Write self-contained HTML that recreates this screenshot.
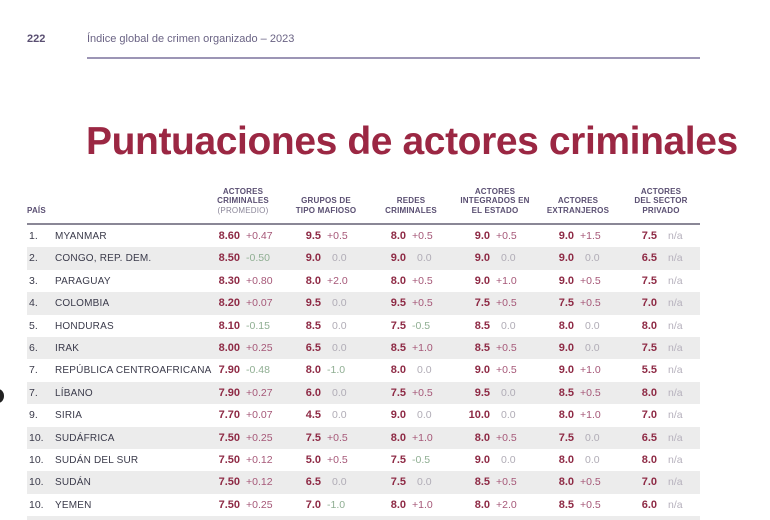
<!DOCTYPE html>
<html style="width:770px;height:520px;overflow:hidden"><head><meta charset="utf-8">
<style>
body{margin:0;width:770px;height:520px;overflow:hidden;background:#fff;font-family:"Liberation Sans",sans-serif;position:relative}
.abs{position:absolute;white-space:nowrap}
.hd{font-size:8px;font-weight:bold;color:#5a4f72;text-align:center;line-height:9.5px;letter-spacing:0.2px}
.row{position:absolute;left:27px;width:673px;height:22.4px}
.cell{position:absolute;font-size:11px;top:5px;white-space:nowrap;line-height:13px}
.sc{font-weight:bold;color:#8e2a45;text-align:right;width:40px}
.ch{font-size:10.5px}
</style></head><body>
<div class="abs" style="left:27px;top:33px;font-size:11px;font-weight:bold;color:#5a4f72">222</div>
<div class="abs" style="left:87px;top:33px;font-size:11px;color:#6a6384">Índice global de crimen organizado – 2023</div>
<div class="abs" style="left:87px;top:57px;width:613px;height:2px;background:#9c95b5"></div>
<div class="abs" style="left:86px;top:120px;font-size:39px;font-weight:bold;color:#9b2743;letter-spacing:-0.4px">Puntuaciones de actores criminales</div>
<div class="abs" style="left:-8px;top:389px;width:12px;height:14px;border-radius:50%;background:#222"></div>
<div class="abs hd" style="left:27px;top:206px;text-align:left">PAÍS</div>
<div id="hdrs"></div>
<div class="abs" style="left:27px;top:223px;width:673px;height:2px;background:#8a8796"></div>
<div id="rows"></div>
<script>
const ranks=["1.","2.","3.","4.","5.","6.","7.","7.","9.","10.","10.","10.","10.",""];
const countries=["MYANMAR","CONGO, REP. DEM.","PARAGUAY","COLOMBIA","HONDURAS","IRAK","REPÚBLICA CENTROAFRICANA","LÍBANO","SIRIA","SUDÁFRICA","SUDÁN DEL SUR","SUDÁN","YEMEN",""];
const avgScore=["8.60","8.50","8.30","8.20","8.10","8.00","7.90","7.90","7.70","7.50","7.50","7.50","7.50",""];
const avgChange=["+0.47","-0.50","+0.80","+0.07","-0.15","+0.25","-0.48","+0.27","+0.07","+0.25","+0.12","+0.12","+0.25",""];
const mafScore=["9.5","9.0","8.0","9.5","8.5","6.5","8.0","6.0","4.5","7.5","5.0","6.5","7.0",""];
const mafChange=["+0.5","0.0","+2.0","0.0","0.0","0.0","-1.0","0.0","0.0","+0.5","+0.5","0.0","-1.0",""];
const redScore=["8.0","9.0","8.0","9.5","7.5","8.5","8.0","7.5","9.0","8.0","7.5","7.5","8.0",""];
const redChange=["+0.5","0.0","+0.5","+0.5","-0.5","+1.0","0.0","+0.5","0.0","+1.0","-0.5","0.0","+1.0",""];
const intScore=["9.0","9.0","9.0","7.5","8.5","8.5","9.0","9.5","10.0","8.0","9.0","8.5","8.0",""];
const intChange=["+0.5","0.0","+1.0","+0.5","0.0","+0.5","+0.5","0.0","0.0","+0.5","0.0","+0.5","+2.0",""];
const extScore=["9.0","9.0","9.0","7.5","8.0","9.0","9.0","8.5","8.0","7.5","8.0","8.0","8.5",""];
const extChange=["+1.5","0.0","+0.5","+0.5","0.0","0.0","+1.0","+0.5","+1.0","0.0","0.0","+0.5","+0.5",""];
const priScore=["7.5","6.5","7.5","7.0","8.0","7.5","5.5","8.0","7.0","6.5","8.0","7.0","6.0",""];
const headers=[["ACTORES","CRIMINALES","(PROMEDIO)"],["GRUPOS DE","TIPO MAFIOSO"],["REDES","CRIMINALES"],["ACTORES","INTEGRADOS EN","EL ESTADO"],["ACTORES","EXTRANJEROS"],["ACTORES","DEL SECTOR","PRIVADO"]];
const headerNames=["col-header-actores-criminales","col-header-grupos-mafiosos","col-header-redes-criminales","col-header-actores-estado","col-header-actores-extranjeros","col-header-sector-privado"];
const colCenters=[243,326,411,495,578,661];
const scoreRight=[240,321,406,490,574,657];
const hd=document.getElementById('hdrs');
headers.forEach((h,i)=>{
  const d=document.createElement('div');
  
  
  d.className='abs hd';
  d.style.left=(colCenters[i]-45)+'px';d.style.width='90px';
  d.style.top=(215-h.length*9.5)+'px';
  d.innerHTML=h.map((t,k)=>(i==0&&k==2)?'<span style="font-weight:normal;color:#8a8598">'+t+'</span>':t).join('<br>');
  hd.appendChild(d);
});
function chColor(v){if(v==="n/a")return"#b5b0bc";const n=parseFloat(v);if(n>0)return"#a65878";if(n<0)return"#8fae92";return"#b0acb6";}
const rowsEl=document.getElementById('rows');
const cols=[[avgScore,avgChange],[mafScore,mafChange],[redScore,redChange],[intScore,intChange],[extScore,extChange],[priScore,null]];
const pitch=22.4,top0=225;
countries.forEach((c,r)=>{
  const row=document.createElement('div');
  
  
  row.className='row';
  row.style.top=(top0+r*pitch)+'px';
  if(r%2==1)row.style.background='#ececec';
  let h='<div class="cell" style="left:2px;color:#3a3a4a;font-size:10.5px">'+ranks[r]+'</div>';
  h+='<div class="cell" style="left:28px;color:#3a3a4a;font-size:10px;letter-spacing:0.2px">'+c+'</div>';
  if(c){
    cols.forEach((col,i)=>{
      const x=scoreRight[i]-27;
      h+='<div class="cell sc" style="left:'+(x-40)+'px">'+col[0][r]+'</div>';
      const cv=col[1]?col[1][r]:"n/a";
      const off=6+(cv.charAt(0)=="0"||cv=="n/a"?5:0);
      h+='<div class="cell ch" style="left:'+(x+off)+'px;color:'+chColor(cv)+'">'+cv+'</div>';
    });
  }
  row.innerHTML=h;
  rowsEl.appendChild(row);
});
</script>
</body></html>
